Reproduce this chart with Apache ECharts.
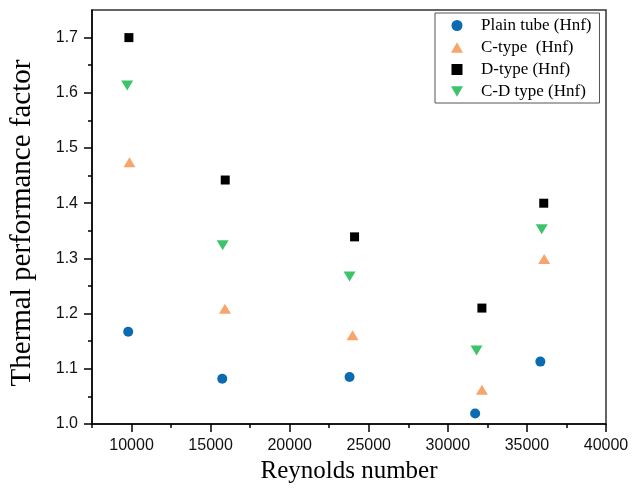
<!DOCTYPE html>
<html>
<head>
<meta charset="utf-8">
<script src="https://cdn.jsdelivr.net/npm/echarts@6/dist/echarts.min.js"></script>
<style>html,body{margin:0;padding:0;background:#fff}#c{width:633px;height:489px}</style>
</head>
<body>
<div id="c"></div>
<script>
// Data
const seriesNames = ['Plain tube (Hnf)', 'C-type  (Hnf)', 'D-type (Hnf)', 'C-D type (Hnf)'];
const plainRe = [9790, 15735, 23785, 31727, 35850];
const plainTPF = [1.167, 1.082, 1.085, 1.019, 1.113];
const cRe = [9870, 15905, 23975, 32153, 36089];
const cTPF = [1.474, 1.209, 1.161, 1.062, 1.299];
const dRe = [9833, 15924, 24101, 32153, 36063];
const dTPF = [1.700, 1.442, 1.339, 1.210, 1.400];
const cdRe = [9726, 15760, 23785, 31813, 35937];
const cdTPF = [1.613, 1.324, 1.267, 1.133, 1.353];

const xTicks = [10000, 15000, 20000, 25000, 30000, 35000, 40000];
const xMinorTicks = [7500, 12500, 17500, 22500, 27500, 32500, 37500];
const yTicks = [1.0, 1.1, 1.2, 1.3, 1.4, 1.5, 1.6, 1.7];
const yMinorTicks = [1.05, 1.15, 1.25, 1.35, 1.45, 1.55, 1.65];

const pair = (xs, ys) => xs.map((x, i) => [x, ys[i]]);
const sans = 'Liberation Sans, Arial, sans-serif';
const serif = 'Liberation Serif, Times New Roman, serif';

const chart = echarts.init(document.getElementById('c'), null, {renderer: 'canvas'});
const axisLineStyle = {color: '#000', width: 1.5};
chart.setOption({
  animation: false,
  backgroundColor: '#fff',
  grid: {left: 91, right: 27, top: 10, bottom: 65, show: true, borderColor: '#333', borderWidth: 1.5, backgroundColor: 'transparent'},
  legend: {
    orient: 'vertical', left: 435, top: 13,
    padding: [4, 8, 3, 16], itemGap: 5, itemWidth: 12, itemHeight: 11,
    borderColor: '#555', borderWidth: 1,
    textStyle: {fontFamily: serif, fontSize: 17, lineHeight: 17, color: '#000', padding: [0, 0, 0, 13]},
    data: seriesNames
  },
  xAxis: [{
    type: 'value', min: 7500, max: 40000, position: 'bottom',
    name: 'Reynolds number', nameLocation: 'middle', nameGap: 31,
    nameTextStyle: {fontFamily: serif, fontSize: 25, color: '#000'},
    axisLine: {show: true, lineStyle: axisLineStyle},
    axisTick: {show: true, inside: false, length: 8, lineStyle: {color: '#000', width: 1.5}, customValues: xTicks},
    axisLabel: {show: true, margin: 14, fontFamily: sans, fontSize: 16, color: '#111', customValues: xTicks,
      formatter: v => String(Math.round(v))},
    splitLine: {show: false}
  }, {
    type: 'value', min: 7500, max: 40000, position: 'bottom',
    axisLine: {show: false},
    axisTick: {show: true, inside: false, length: 4, lineStyle: {color: '#000', width: 1.5}, customValues: xMinorTicks},
    axisLabel: {show: false},
    splitLine: {show: false}
  }],
  yAxis: [{
    type: 'value', min: 1.0, max: 1.75, position: 'left',
    name: 'Thermal performance factor', nameLocation: 'middle', nameGap: 55,
    nameTextStyle: {fontFamily: serif, fontSize: 29, color: '#000', padding: [0, 12, 0, 0]},
    axisLine: {show: true, lineStyle: axisLineStyle},
    axisTick: {show: true, inside: false, length: 8, lineStyle: {color: '#000', width: 1.5}, customValues: yTicks},
    axisLabel: {show: true, margin: 14, fontFamily: sans, fontSize: 16, color: '#111', customValues: yTicks,
      formatter: v => v.toFixed(1)},
    splitLine: {show: false}
  }, {
    type: 'value', min: 1.0, max: 1.75, position: 'left',
    axisLine: {show: false},
    axisTick: {show: true, inside: false, length: 4, lineStyle: {color: '#000', width: 1.5}, customValues: yMinorTicks},
    axisLabel: {show: false},
    splitLine: {show: false}
  }],
  series: [
    {name: seriesNames[0], type: 'scatter', symbol: 'circle', symbolSize: 10,
     itemStyle: {color: '#0b6bb1', opacity: 1}, data: pair(plainRe, plainTPF)},
    {name: seriesNames[1], type: 'scatter', symbol: 'path://M5,0 L10,8.66 L0,8.66 Z', symbolSize: [12, 10],
     itemStyle: {color: '#f7a56d', opacity: 1}, data: pair(cRe, cTPF)},
    {name: seriesNames[2], type: 'scatter', symbol: 'path://M0,0 L10,0 L10,10 L0,10 Z', symbolSize: 9,
     itemStyle: {color: '#000', opacity: 1}, data: pair(dRe, dTPF)},
    {name: seriesNames[3], type: 'scatter', symbol: 'path://M0,0 L10,0 L5,8.66 Z', symbolSize: [12, 10],
     itemStyle: {color: '#3dc46b', opacity: 1}, data: pair(cdRe, cdTPF)}
  ]
});
</script>
</body>
</html>
